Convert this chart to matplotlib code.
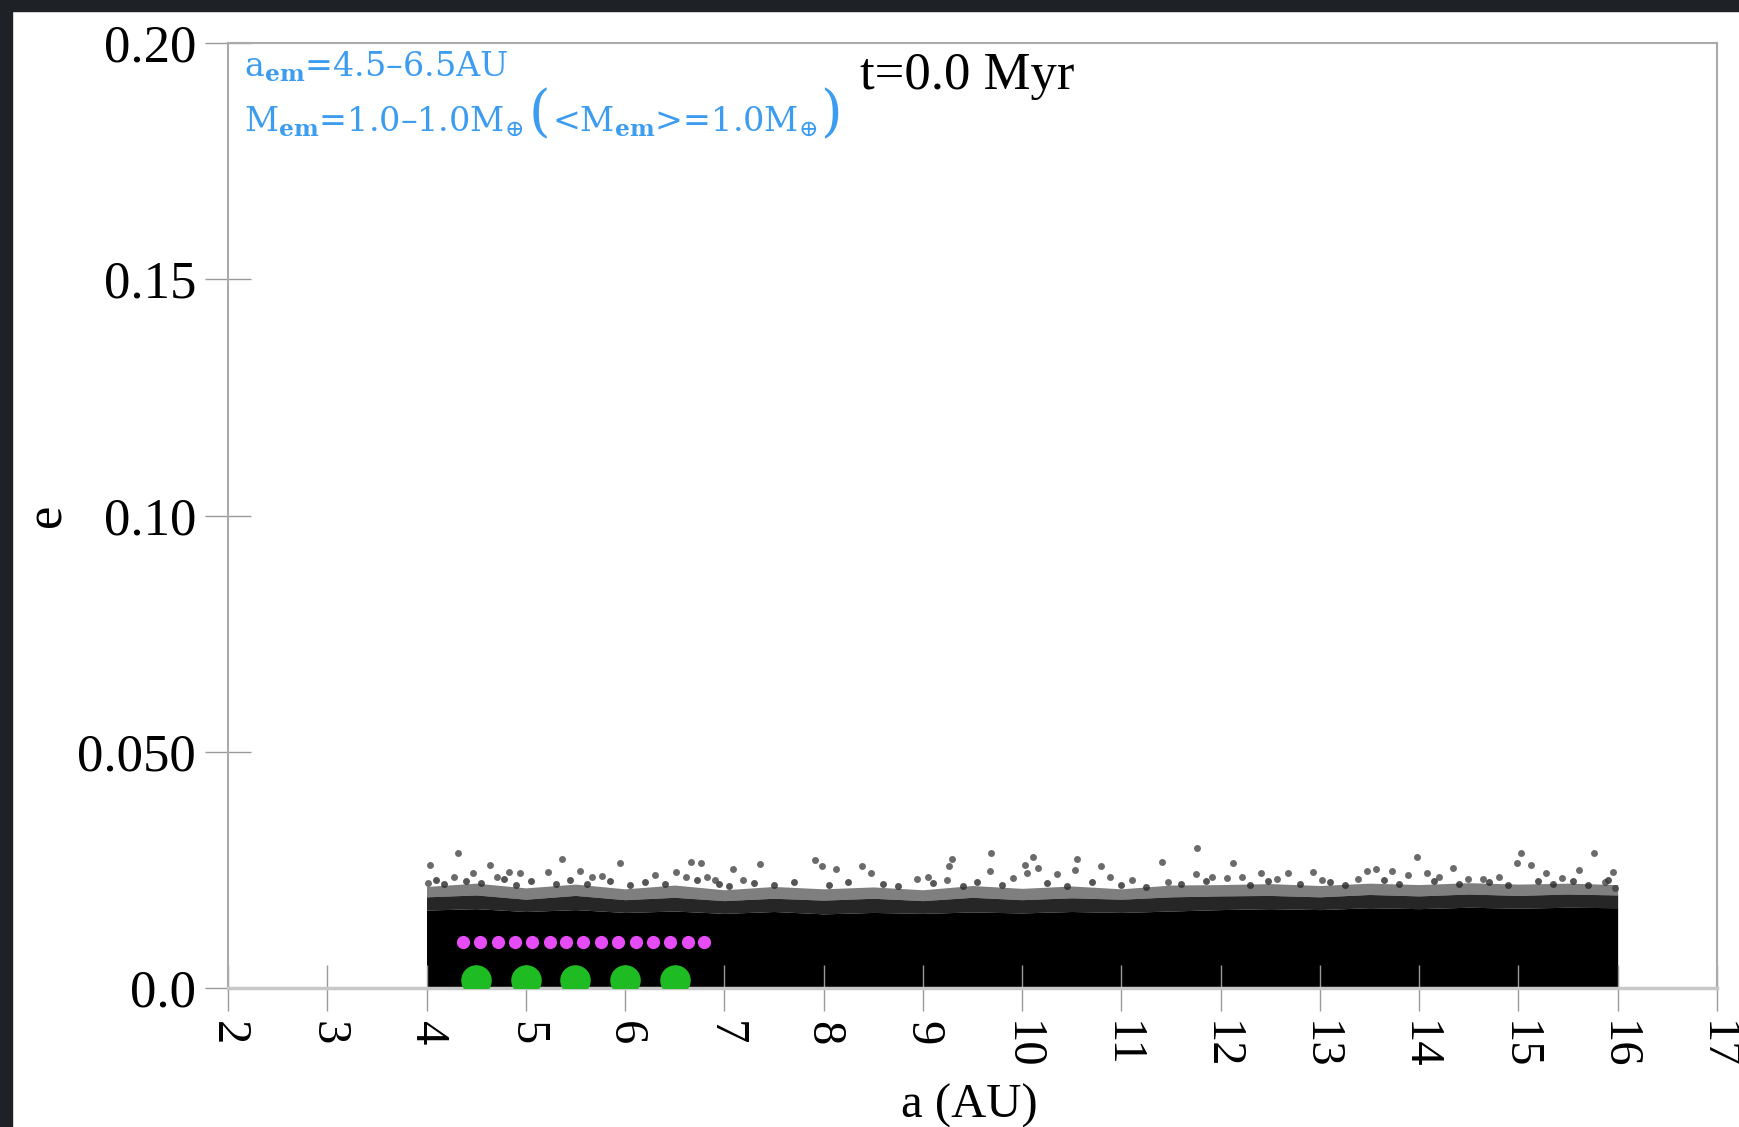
import numpy as np
import matplotlib.pyplot as plt
from matplotlib.patches import Rectangle

# dense planetesimal band (a in AU, e), envelope
cloud_a = [4.0, 4.5, 5.0, 5.5, 6.0, 6.5, 7.0, 7.5, 8.0, 8.5, 9.0, 9.5, 10.0,
           10.5, 11.0, 11.5, 12.0, 12.5, 13.0, 13.5, 14.0, 14.5, 15.0, 15.5, 16.0]
cloud_low = [0.0003] * 25
cloud_core = [0.0165, 0.0168, 0.0162, 0.0166, 0.0160, 0.0163, 0.0158, 0.0162, 0.0157,
              0.0160, 0.0158, 0.0161, 0.0159, 0.0162, 0.0160, 0.0163, 0.0166, 0.0168,
              0.0166, 0.0170, 0.0168, 0.0171, 0.0169, 0.0171, 0.0170]
cloud_mid = [0.0193, 0.0197, 0.0188, 0.0196, 0.0187, 0.0192, 0.0185, 0.0190, 0.0186,
             0.0190, 0.0185, 0.0192, 0.0187, 0.0191, 0.0188, 0.0193, 0.0195, 0.0196,
             0.0193, 0.0198, 0.0195, 0.0199, 0.0196, 0.0199, 0.0197]
cloud_top = [0.0215, 0.0222, 0.0212, 0.0220, 0.0210, 0.0218, 0.0208, 0.0215, 0.0210,
             0.0214, 0.0208, 0.0217, 0.0211, 0.0216, 0.0210, 0.0218, 0.0219, 0.0221,
             0.0217, 0.0222, 0.0219, 0.0223, 0.0220, 0.0222, 0.0219]

# planetesimals in the ragged top of the band
fringe_a = [4.10, 4.18, 4.40, 4.55, 4.78, 4.90, 5.05, 5.30, 5.45, 5.62, 5.85, 6.05, 6.20,
            6.40, 6.72, 6.95, 7.05, 7.30, 7.50, 7.70, 8.05, 8.25, 8.60, 8.75, 9.10, 9.40,
            9.55, 9.80, 10.25, 10.45, 10.70, 11.00, 11.25, 11.60, 11.85, 12.30, 12.48,
            12.80, 13.10, 13.25, 13.65, 13.80, 14.15, 14.40, 14.70, 14.90, 15.20, 15.35,
            15.55, 15.70, 15.90]
fringe_e = [0.0228, 0.0220, 0.0226, 0.0222, 0.0230, 0.0219, 0.0226, 0.0221, 0.0229, 0.0220,
            0.0227, 0.0218, 0.0225, 0.0221, 0.0228, 0.0220, 0.0215, 0.0222, 0.0219, 0.0224,
            0.0218, 0.0225, 0.0220, 0.0216, 0.0223, 0.0217, 0.0224, 0.0219, 0.0222, 0.0216,
            0.0225, 0.0219, 0.0214, 0.0221, 0.0226, 0.0218, 0.0227, 0.0220, 0.0224, 0.0219,
            0.0228, 0.0221, 0.0226, 0.0220, 0.0224, 0.0218, 0.0227, 0.0221, 0.0226, 0.0219,
            0.0229]

# scattered planetesimals above the band
out_a = [4.32, 4.04, 4.64, 5.36, 5.95, 6.66, 6.77, 7.09, 7.36, 7.91, 4.02, 4.28, 4.47,
         4.71, 4.83, 4.94, 5.22, 5.55, 5.67, 5.77, 6.30, 6.51, 6.61, 6.83, 6.91, 7.19,
         7.98, 8.13, 8.39, 8.48, 8.94, 9.05, 9.24, 9.26, 9.29, 9.69, 9.68, 9.91, 10.03,
         10.11, 10.05, 10.16, 10.35, 10.55, 10.53, 10.80, 10.89, 11.11, 11.41, 11.47,
         11.76, 11.75, 11.91, 12.06, 12.12, 12.22, 12.41, 12.57, 12.68, 12.93, 13.02,
         13.38, 13.47, 13.57, 13.73, 13.89, 13.98, 14.08, 14.20, 14.34, 14.49, 14.64,
         14.80, 14.99, 15.03, 15.13, 15.28, 15.44, 15.61, 15.76, 15.87, 15.95, 15.97]
out_e = [0.0286, 0.0260, 0.0260, 0.0273, 0.0264, 0.0267, 0.0264, 0.0252, 0.0262, 0.0271,
         0.0222, 0.0235, 0.0243, 0.0235, 0.0245, 0.0243, 0.0245, 0.0248, 0.0235, 0.0237,
         0.0239, 0.0245, 0.0235, 0.0235, 0.0228, 0.0228,
         0.0258, 0.0252, 0.0258, 0.0243, 0.0231, 0.0235, 0.0228, 0.0258, 0.0273, 0.0286,
         0.0248, 0.0233, 0.0260, 0.0277, 0.0243, 0.0254, 0.0241, 0.0273, 0.0250, 0.0258,
         0.0235, 0.0228, 0.0267, 0.0224, 0.0296, 0.0241, 0.0235,
         0.0233, 0.0264, 0.0235, 0.0243, 0.0231, 0.0243, 0.0245, 0.0228, 0.0231, 0.0248,
         0.0252, 0.0248, 0.0239, 0.0277, 0.0243, 0.0235, 0.0254, 0.0231, 0.0231, 0.0235,
         0.0264, 0.0286, 0.0260, 0.0243, 0.0233, 0.0250, 0.0286, 0.0224, 0.0245, 0.0212]

# magenta row
row_a = [4.37, 4.54, 4.72, 4.89, 5.06, 5.24, 5.41, 5.58, 5.76, 5.93, 6.11, 6.28, 6.45, 6.63, 6.80]
row_e = [0.0098] * 15

# embryos
emb_a = [4.5, 5.0, 5.5, 6.0, 6.5]
emb_e = [0.0017, 0.0017, 0.0017, 0.0017, 0.0017]

xticks = list(range(2, 18))
yticks = [0.0, 0.05, 0.10, 0.15, 0.20]
ytick_labels = ["0.0", "0.050", "0.10", "0.15", "0.20"]

plt.rcParams['font.family'] = 'Liberation Serif'
plt.rcParams['mathtext.fontset'] = 'dejavuserif'

fig = plt.figure(figsize=(17.39, 11.27), dpi=100)
ax = fig.add_axes([0.1311, 0.1233, 0.8562, 0.8385])

ax.fill_between(cloud_a, cloud_low, cloud_core, color='k', lw=0)
ax.fill_between(cloud_a, cloud_core, cloud_mid, color='k', alpha=0.85, lw=0)
ax.fill_between(cloud_a, cloud_mid, cloud_top, color='k', alpha=0.5, lw=0)
ax.plot(fringe_a, fringe_e, 'o', ms=5, color='#2a2a2a', alpha=0.8, mec='none')
ax.plot(out_a, out_e, 'o', ms=5, color='#3a3a3a', alpha=0.75, mec='none')
ax.plot(row_a, row_e, 'o', ms=9.5, color='#e64cf6', mec='none', zorder=3)
ax.plot(emb_a, emb_e, 'o', ms=22, color='#1fbb22', mec='none', zorder=3)

ax.set_xlim(2, 17)
ax.set_ylim(0, 0.2)
ax.set_xticks(xticks)
ax.set_xticklabels([str(t) for t in xticks], rotation=-90, fontsize=35)
ax.set_yticks(yticks)
ax.set_yticklabels(ytick_labels, fontsize=38)
ax.tick_params(direction='inout', length=33, width=1, color='#999999')
ax.tick_params(axis='x', pad=7)
ax.tick_params(axis='y', pad=6.5)

for side in ['left', 'right', 'top']:
    ax.spines[side].set_color('#aaaaaa')
    ax.spines[side].set_linewidth(1.5)
ax.spines['bottom'].set_color('#c8c8c8')
ax.spines['bottom'].set_linewidth(2.5)

ax.set_xlabel("a (AU)", fontsize=35)
ax.xaxis.set_label_coords(0.498, -0.101)
ax.set_ylabel("e", fontsize=38)
ax.yaxis.set_label_coords(-0.105, 0.5)

# blue legend text, second line put together from pieces for the large brackets
blue = '#3c9cf0'
W, H = 1739.0, 1127.0
x0 = 244 / W
fig.text(x0, 1 - 77 / H, r"$\mathrm{a}_{\mathbf{em}}$=4.5–6.5AU",
         color=blue, fontsize=24, family='DejaVu Serif', va='baseline')
pieces = [(r"$\mathrm{M}_{\mathbf{em}}$=1.0–1.0$\mathrm{M}_{\oplus}$ ", 24),
          ("(", 40),
          (r"<$\mathrm{M}_{\mathbf{em}}$>=1.0$\mathrm{M}_{\oplus}$", 24),
          (")", 40)]
renderer = fig.canvas.get_renderer()
xp = x0
for s, fs in pieces:
    t = fig.text(xp, 1 - 130 / H, s, color=blue, fontsize=fs,
                 family='DejaVu Serif', va='baseline')
    xp = t.get_window_extent(renderer).x1 / W + 2 / W

fig.text(860 / W, 1 - 89 / H, "t=0.0 Myr", fontsize=38, va='baseline')

# dark frame on the left and top edges
fig.patches.append(Rectangle((0, 0), 12 / W, 1, transform=fig.transFigure,
                             color='#1e2126', zorder=0))
fig.patches.append(Rectangle((0, 1 - 11 / H), 1, 11 / H, transform=fig.transFigure,
                             color='#1e2126', zorder=0))

fig.savefig("out.png", dpi=100)
